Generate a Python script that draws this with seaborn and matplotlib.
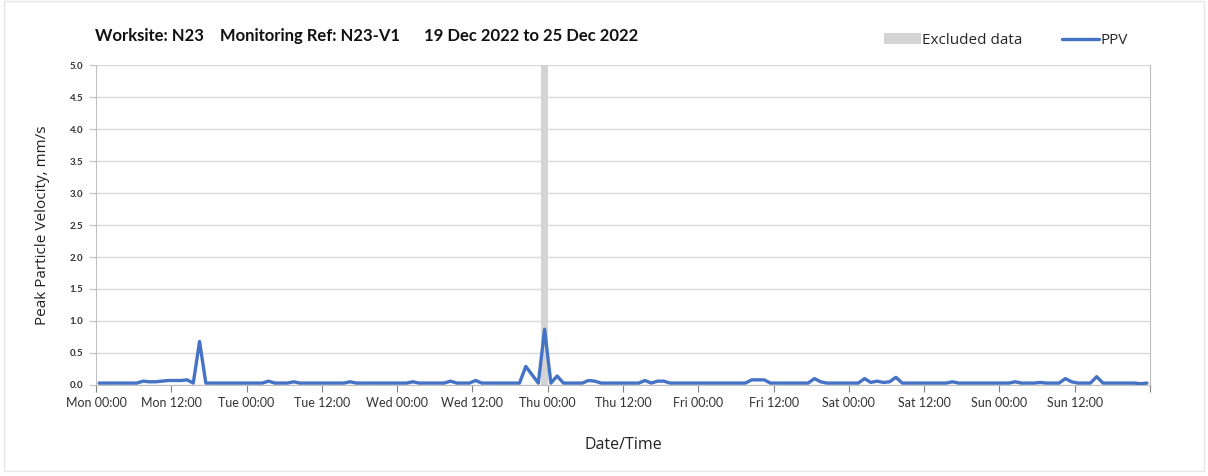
import numpy as np
import pandas as pd
import seaborn as sns
import matplotlib.pyplot as plt
import matplotlib.dates as mdates
from matplotlib.patches import Rectangle, Patch
from matplotlib.lines import Line2D

# hourly PPV readings (mm/s), one list per day, taken at hh:30
ppv_mon = [0.03, 0.03, 0.03, 0.03, 0.03, 0.03, 0.03, 0.06, 0.05, 0.05, 0.06, 0.07,
           0.07, 0.07, 0.08, 0.03, 0.68, 0.03, 0.03, 0.03, 0.03, 0.03, 0.03, 0.03]
ppv_tue = [0.03, 0.03, 0.03, 0.06, 0.03, 0.03, 0.03, 0.05, 0.03, 0.03, 0.03, 0.03,
           0.03, 0.03, 0.03, 0.03, 0.05, 0.03, 0.03, 0.03, 0.03, 0.03, 0.03, 0.03]
ppv_wed = [0.03, 0.03, 0.05, 0.03, 0.03, 0.03, 0.03, 0.03, 0.06, 0.03, 0.03, 0.03,
           0.07, 0.03, 0.03, 0.03, 0.03, 0.03, 0.03, 0.03, 0.29, 0.16, 0.03, 0.87]
ppv_thu = [0.03, 0.14, 0.03, 0.03, 0.03, 0.03, 0.07, 0.06, 0.03, 0.03, 0.03, 0.03,
           0.03, 0.03, 0.03, 0.07, 0.03, 0.06, 0.06, 0.03, 0.03, 0.03, 0.03, 0.03]
ppv_fri = [0.03, 0.03, 0.03, 0.03, 0.03, 0.03, 0.03, 0.03, 0.08, 0.08, 0.08, 0.03,
           0.03, 0.03, 0.03, 0.03, 0.03, 0.03, 0.10, 0.05, 0.03, 0.03, 0.03, 0.03]
ppv_sat = [0.03, 0.03, 0.10, 0.04, 0.06, 0.04, 0.05, 0.12, 0.03, 0.03, 0.03, 0.03,
           0.03, 0.03, 0.03, 0.03, 0.05, 0.03, 0.03, 0.03, 0.03, 0.03, 0.03, 0.03]
ppv_sun = [0.03, 0.03, 0.05, 0.03, 0.03, 0.03, 0.04, 0.03, 0.03, 0.03, 0.10, 0.05,
           0.03, 0.03, 0.03, 0.13, 0.03, 0.03, 0.03, 0.03, 0.03, 0.03, 0.02, 0.03]

start = "2022-12-19 00:00"
end = "2022-12-26 00:00"
excluded_from = "2022-12-21 23:00"
excluded_to = "2022-12-22 00:05"

ppv = ppv_mon + ppv_tue + ppv_wed + ppv_thu + ppv_fri + ppv_sat + ppv_sun
times = pd.date_range("2022-12-19 00:30", periods=len(ppv), freq="h")
df = pd.DataFrame({"time": times, "ppv": ppv})

sns.set_style("white")
plt.rcParams["font.family"] = ["Lato", "DejaVu Sans"]

fig = plt.figure(figsize=(12.08, 4.76), dpi=100)
ax = fig.add_axes([0.0795, 0.1912, 0.8725, 0.6722])

ax.axvspan(pd.Timestamp(excluded_from), pd.Timestamp(excluded_to),
           color="#d4d4d4", lw=0, zorder=1)
sns.lineplot(data=df, x="time", y="ppv", ax=ax, color="#4472c4",
             linewidth=2.4, zorder=3)

ax.set_xlim(pd.Timestamp(start), pd.Timestamp(end))
ax.set_ylim(0, 5)
ax.set_yticks(np.arange(0, 5.01, 0.5))
ax.yaxis.set_major_formatter(plt.FormatStrFormatter("%.1f"))

end_num = mdates.date2num(pd.Timestamp(end))


def tick_label(x, pos):
    # no label on the closing tick
    if abs(x - end_num) < 1e-6:
        return ""
    return mdates.num2date(x).strftime("%a %H:%M")


ax.xaxis.set_major_locator(mdates.HourLocator(byhour=[0, 12]))
ax.xaxis.set_major_formatter(plt.FuncFormatter(tick_label))
ax.xaxis.set_minor_locator(mdates.DayLocator())

ax.grid(axis="y", color="#d9d9d9", lw=1)
ax.grid(axis="x", which="minor", color="#d9d9d9", lw=1)
ax.set_axisbelow(True)

for side in ["left", "bottom", "right"]:
    ax.spines[side].set_color("#bfbfbf")
ax.spines["top"].set_visible(False)

ax.tick_params(axis="x", which="major", length=5, color="#808080",
               labelsize=9, labelcolor="#333333", pad=4, bottom=True)
ax.tick_params(axis="x", which="minor", length=0)
ax.tick_params(axis="y", length=5, color="#bfbfbf", labelsize=7,
               labelcolor="#333333", pad=4, left=True)
for lab in ax.get_yticklabels():
    lab.set_fontweight("bold")

ax.set_xlabel("Date/Time", fontsize=11.5, family=["Open Sans", "DejaVu Sans"],
              color="#222222", labelpad=20)
ax.set_ylabel("Peak Particle Velocity, mm/s", fontsize=11,
              family=["Open Sans", "DejaVu Sans"], color="#222222", labelpad=14)

fig.text(0.0786, 0.924,
         "Worksite: N23    Monitoring Ref: N23-V1      19 Dec 2022 to 25 Dec 2022",
         fontsize=12, fontweight="bold", color="#111111", va="center")

handles = [Patch(facecolor="#d4d4d4", edgecolor="none", label="Excluded data"),
           Line2D([], [], color="#4472c4", lw=2.4, label="PPV")]
fig.legend(handles=handles, loc="center right", bbox_to_anchor=(0.945, 0.915),
           ncol=2, frameon=False, handlelength=2.4, handleheight=0.7,
           handletextpad=0.1, columnspacing=2.6,
           prop={"family": ["Open Sans", "DejaVu Sans"], "size": 11})

fig.patches.append(Rectangle((0.003, 0.01), 0.994, 0.988, transform=fig.transFigure,
                             fill=False, edgecolor="#e6e6e6", lw=1))

plt.savefig("out.png", dpi=100)
